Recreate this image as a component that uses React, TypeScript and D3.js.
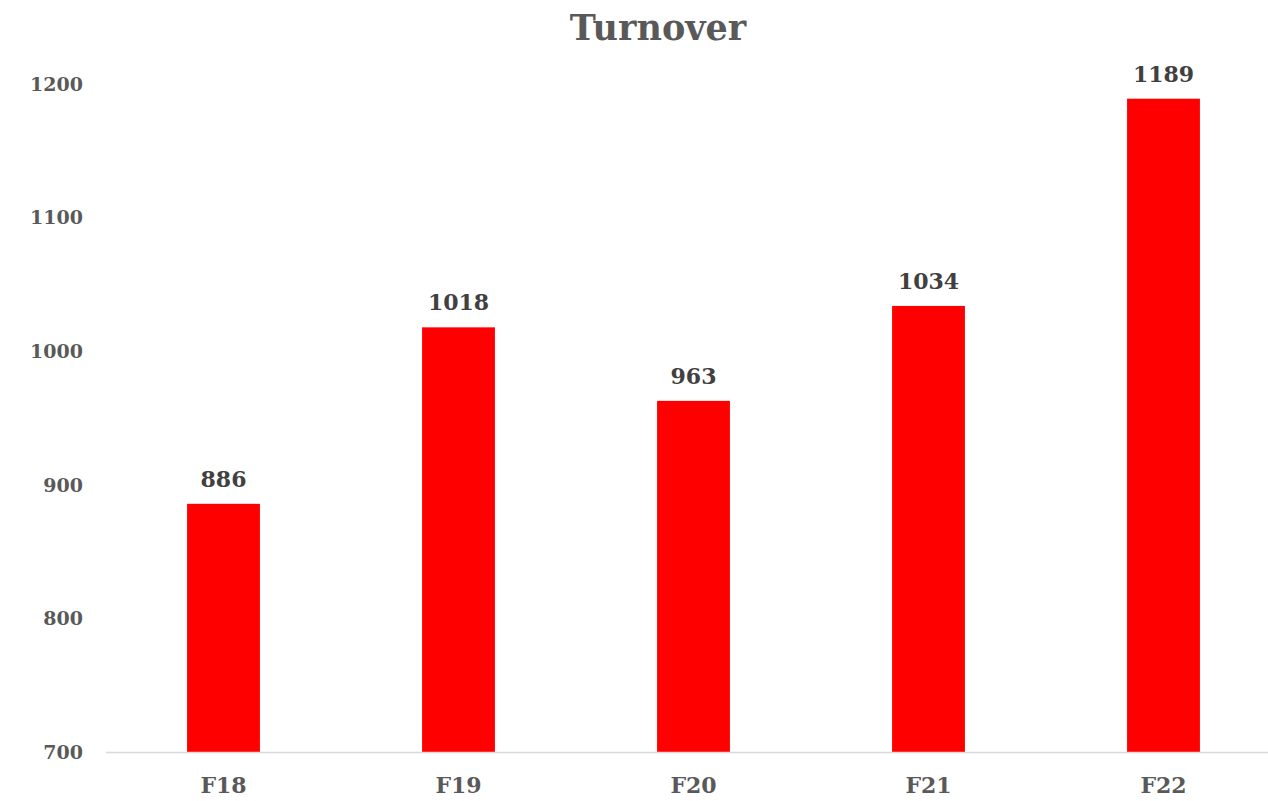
import React, { useEffect, useRef } from "react";
import * as d3 from "d3";

const categories = ["F18", "F19", "F20", "F21", "F22"];
const turnover = [886, 1018, 963, 1034, 1189];
const yTicks = [700, 800, 900, 1000, 1100, 1200];

const W = 1268;
const H = 801;
const FONT = "'DejaVu Serif', 'Liberation Serif', serif";

const App = () => {
  const svgRef = useRef<SVGSVGElement>(null);

  useEffect(() => {
    const svg = d3.select(svgRef.current);
    svg.selectAll("*").remove();

    // plot area (right edge runs slightly past the window, like the original)
    const x = d3
      .scaleBand()
      .domain(categories)
      .range([106, 1281])
      .paddingInner(0.69)
      .paddingOuter(0.345);

    const y = d3.scaleLinear().domain([700, 1200]).range([752.5, 84]);

    svg
      .append("text")
      .attr("x", 658)
      .attr("y", 40)
      .attr("text-anchor", "middle")
      .attr("font-family", FONT)
      .attr("font-weight", "bold")
      .attr("font-size", 35)
      .attr("fill", "#595959")
      .text("Turnover");

    // y tick labels, no axis line
    svg
      .append("g")
      .selectAll("text")
      .data(yTicks)
      .join("text")
      .attr("x", 83)
      .attr("y", (d) => y(d))
      .attr("dy", "0.35em")
      .attr("text-anchor", "end")
      .attr("font-family", FONT)
      .attr("font-weight", "bold")
      .attr("font-size", 19)
      .attr("fill", "#595959")
      .text((d) => d);

    // bars
    svg
      .append("g")
      .selectAll("rect")
      .data(turnover)
      .join("rect")
      .attr("x", (_, i) => x(categories[i])!)
      .attr("y", (d) => y(d))
      .attr("width", x.bandwidth())
      .attr("height", (d) => y(700) - y(d))
      .attr("fill", "#ff0000");

    // baseline
    svg
      .append("line")
      .attr("x1", 106)
      .attr("x2", W)
      .attr("y1", y(700))
      .attr("y2", y(700))
      .attr("stroke", "#d9d9d9")
      .attr("stroke-width", 1.5);

    // value labels
    svg
      .append("g")
      .selectAll("text")
      .data(turnover)
      .join("text")
      .attr("x", (_, i) => x(categories[i])! + x.bandwidth() / 2)
      .attr("y", (d) => y(d) - 17)
      .attr("text-anchor", "middle")
      .attr("font-family", FONT)
      .attr("font-weight", "bold")
      .attr("font-size", 22)
      .attr("fill", "#404040")
      .text((d) => d);

    // category labels
    svg
      .append("g")
      .selectAll("text")
      .data(categories)
      .join("text")
      .attr("x", (d) => x(d)! + x.bandwidth() / 2)
      .attr("y", 793)
      .attr("text-anchor", "middle")
      .attr("font-family", FONT)
      .attr("font-weight", "bold")
      .attr("font-size", 22)
      .attr("fill", "#595959")
      .text((d) => d);
  }, []);

  return (
    <svg
      ref={svgRef}
      width={W}
      height={H}
      style={{ position: "absolute", left: 0, top: 0, background: "#fff" }}
    />
  );
};

export default App;
